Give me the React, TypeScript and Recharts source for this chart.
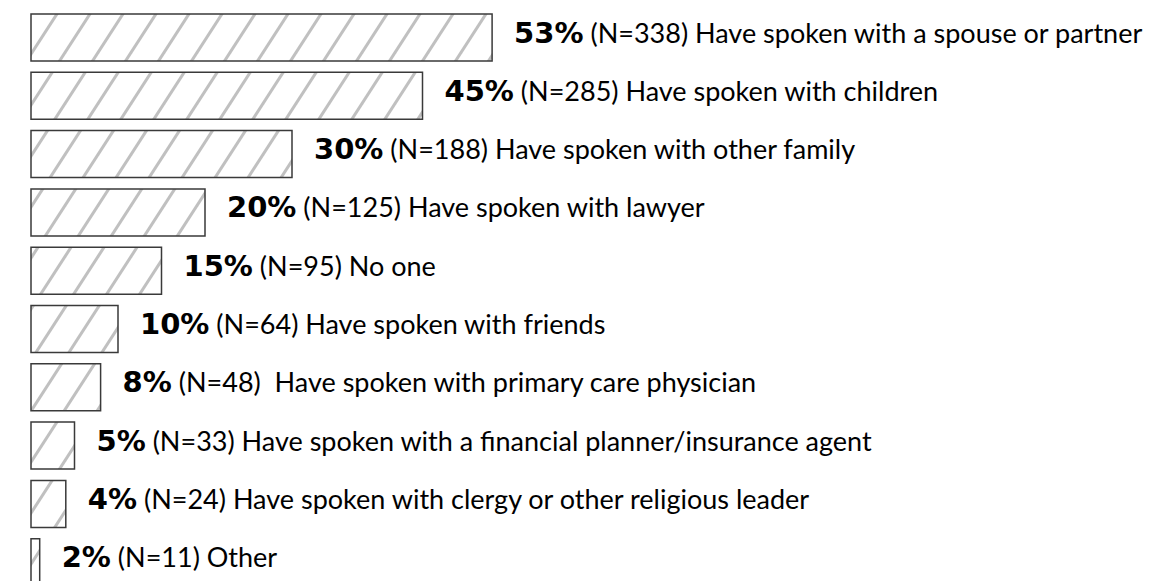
import { BarChart, Bar, XAxis, YAxis, LabelList } from "recharts";

const categories = [
  "Have spoken with a spouse or partner",
  "Have spoken with children",
  "Have spoken with other family",
  "Have spoken with lawyer",
  "No one",
  "Have spoken with friends",
  " Have spoken with primary care physician",
  "Have spoken with a financial planner/insurance agent",
  "Have spoken with clergy or other religious leader",
  "Other",
];

// bar lengths as drawn (percent of respondents)
const barValues = [53, 45, 30, 20, 15, 10, 8, 5, 4, 1];
const percentLabels = ["53%", "45%", "30%", "20%", "15%", "10%", "8%", "5%", "4%", "2%"];
const counts = [338, 285, 188, 125, 95, 64, 48, 33, 24, 11];

const data = categories.map((name, i) => ({ name, value: barValues[i], idx: i }));

const renderLabel = (props: any) => {
  const { x, y, width, height, value } = props;
  const i = Number(value);
  return (
    <text
      x={Number(x) + Number(width) + 22}
      y={Number(y) + Number(height) / 2 + 5}
      fill="#000"
      style={{ whiteSpace: "pre" }}
    >
      <tspan fontFamily="DejaVu Sans" fontWeight={700} fontSize={29}>
        {percentLabels[i]}
      </tspan>
      <tspan fontFamily="Lato" fontWeight={400} fontSize={27}>
        {` (N=${counts[i]}) ${categories[i]}`}
      </tspan>
    </text>
  );
};

export default function App() {
  return (
    <div
      style={{
        position: "fixed",
        left: 0,
        top: 0,
        width: 1156,
        height: 581,
        overflow: "hidden",
        background: "#fff",
      }}
    >
      <BarChart
        width={1156}
        height={591}
        data={data}
        layout="vertical"
        margin={{ top: 8, right: 255, left: 31, bottom: 0 }}
      >
        <defs>
          <pattern id="hatch" patternUnits="userSpaceOnUse" width={33} height={51}>
            <rect width={33} height={51} fill="#fff" />
            <line x1={-33} y1={102} x2={66} y2={-51} stroke="#c0c0c0" strokeWidth={3} />
            <line x1={-66} y1={102} x2={33} y2={-51} stroke="#c0c0c0" strokeWidth={3} />
            <line x1={0} y1={102} x2={99} y2={-51} stroke="#c0c0c0" strokeWidth={3} />
          </pattern>
        </defs>
        <XAxis type="number" domain={[0, 100]} hide />
        <YAxis type="category" dataKey="name" hide />
        <Bar
          dataKey="value"
          barSize={47}
          fill="url(#hatch)"
          stroke="#3a3a3a"
          strokeWidth={1.5}
          isAnimationActive={false}
        >
          <LabelList dataKey="idx" content={renderLabel} />
        </Bar>
      </BarChart>
    </div>
  );
}
